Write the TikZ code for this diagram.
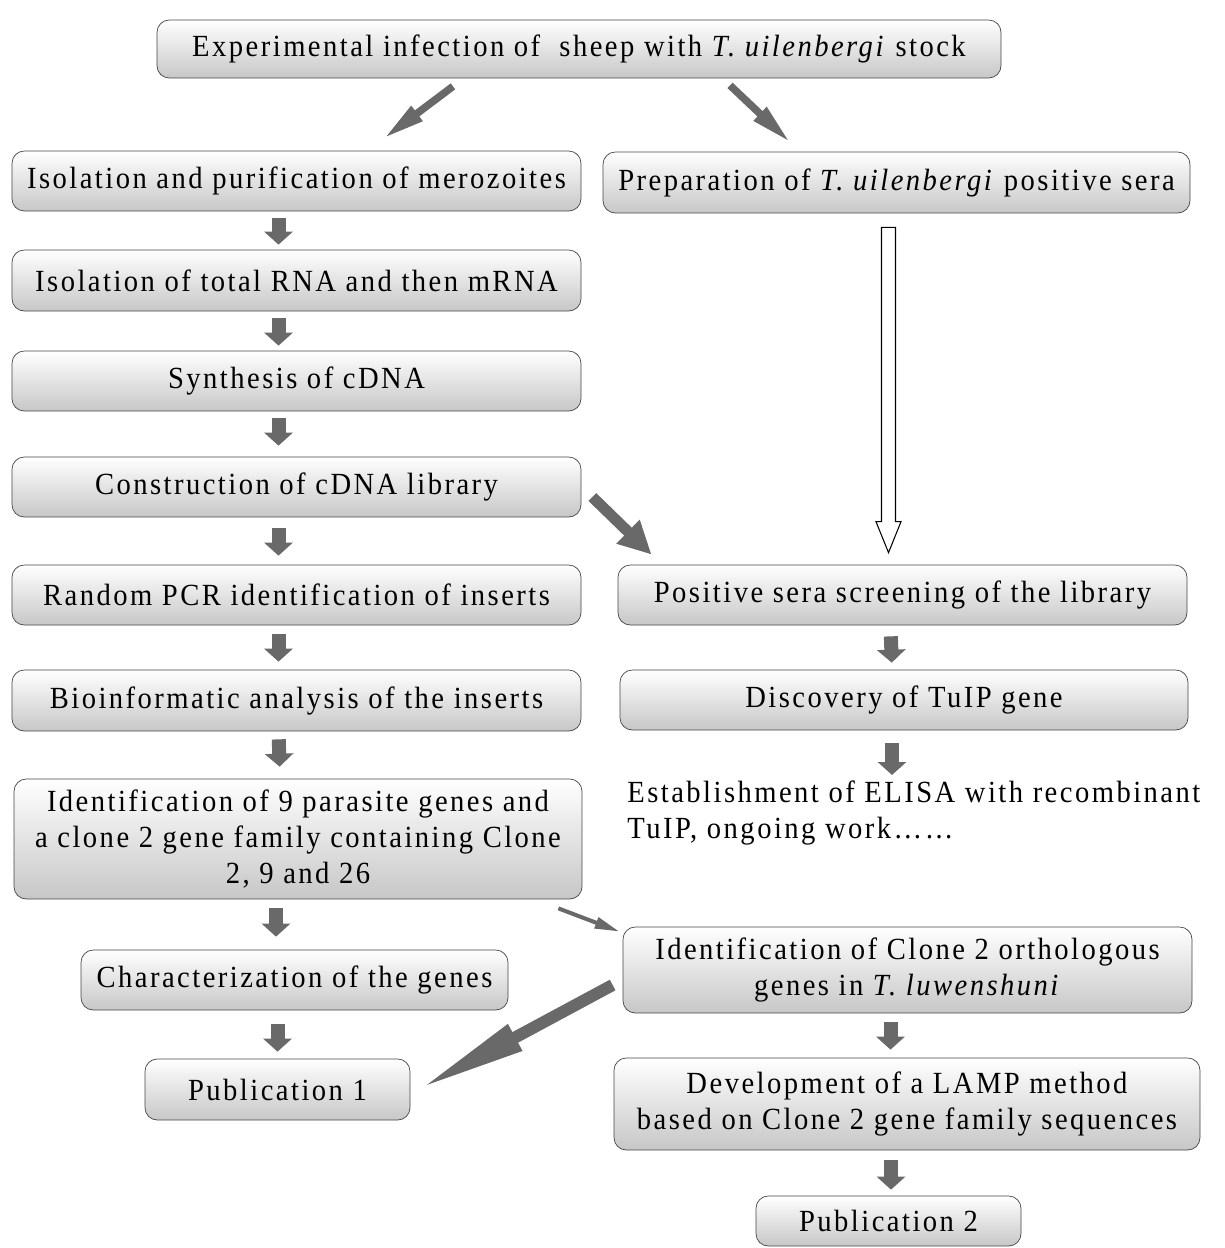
\documentclass[tikz,border=0pt]{standalone}
\usepackage{fontspec}
\setmainfont[FakeStretch=0.93,LetterSpace=8]{Liberation Serif}
\usetikzlibrary{arrows.meta,positioning,calc}
\definecolor{arrowgrey}{RGB}{105,105,105}
\definecolor{boxline}{RGB}{70,70,70}

\begin{document}
\begin{tikzpicture}[
    stage/.style={draw=boxline, rounded corners=7pt, top color=white, bottom color=black!22, minimum height=1.2cm, align=center, font=\fontsize{17.5}{20.5}\selectfont, inner sep=2pt},
    down/.style={arrowgrey, line width=0.28cm, -{Triangle[width=0.56cm,length=0.26cm]}, shorten <=0.16cm, shorten >=0.16cm},
    diag/.style={arrowgrey, line width=0.15cm, -{Triangle[width=0.34cm,length=0.84cm]}},
    openarrow/.style={draw=black, fill=white, line width=0.6pt}
]
\useasboundingbox (0,0) rectangle (24.5,-24.96);

% Top of the flow
\node[stage, minimum width=16.88cm, minimum height=1.16cm] (infect) at (11.58,-0.98) {Experimental infection of\ \ sheep with \textit{T. uilenbergi} stock};

% Left column: merozoites to publication 1
\node[stage, minimum width=11.38cm] (mero) at (5.93,-3.62) {Isolation and purification of merozoites};
\node[stage, minimum width=11.38cm, minimum height=1.22cm] (rna) at (5.93,-5.61) {Isolation of total RNA and then mRNA};
\node[stage, minimum width=11.38cm] (cdna) at (5.93,-7.62) {Synthesis of cDNA};
\node[stage, minimum width=11.38cm] (library) at (5.93,-9.74) {Construction of cDNA library};
\node[stage, minimum width=11.38cm] (pcr) at (5.93,-11.9) {Random PCR identification of inserts};
\node[stage, minimum width=11.38cm, minimum height=1.22cm] (bioinfo) at (5.93,-14.01) {Bioinformatic analysis of the inserts};
\node[stage, minimum width=11.36cm, minimum height=2.4cm] (genes) at (5.96,-16.78) {Identification of 9 parasite genes and\\a clone 2 gene family containing Clone\\2, 9 and 26};
\node[stage, minimum width=8.54cm] (charac) at (5.89,-19.6) {Characterization of the genes};
\node[stage, minimum width=5.3cm, minimum height=1.22cm] (pubone) at (5.55,-21.79) {Publication 1};

% Right column: sera to publication 2
\node[stage, minimum width=11.74cm, minimum height=1.22cm] (sera) at (17.93,-3.65) {Preparation of \textit{T. uilenbergi} positive sera};
\node[stage, minimum width=11.38cm] (screen) at (18.05,-11.9) {Positive sera screening of the library};
\node[stage, minimum width=11.36cm] (tuip) at (18.08,-14.0) {Discovery of TuIP gene};
\node[anchor=west, align=left, inner sep=0pt, font=\fontsize{17.5}{20.5}\selectfont] (elisa) at (12.54,-16.25) {Establishment of ELISA with recombinant\\TuIP, ongoing work\ldots\ldots};
\node[stage, minimum width=11.38cm, minimum height=1.72cm] (ortho) at (18.15,-19.4) {Identification of Clone 2 orthologous\\genes in \textit{T. luwenshuni}};
\node[stage, minimum width=11.72cm, minimum height=1.84cm] (lamp) at (18.14,-22.08) {Development of a LAMP method\\based on Clone 2 gene family sequences};
\node[stage, minimum width=5.3cm, minimum height=1.0cm] (pubtwo) at (17.77,-24.42) {Publication 2};

% Short block arrows, left column
\draw[down, shorten <=0.14cm, shorten >=0.1cm] ([xshift=-0.36cm]mero.south) -- ([xshift=-0.36cm]rna.north);
\draw[down, shorten <=0.14cm, shorten >=0.1cm] ([xshift=-0.36cm]rna.south) -- ([xshift=-0.36cm]cdna.north);
\draw[down, shorten <=0.14cm, shorten >=0.22cm] ([xshift=-0.36cm]cdna.south) -- ([xshift=-0.36cm]library.north);
\draw[down, shorten <=0.22cm, shorten >=0.18cm] ([xshift=-0.36cm]library.south) -- ([xshift=-0.36cm]pcr.north);
\draw[down, shorten <=0.18cm] ([xshift=-0.36cm]pcr.south) -- ([xshift=-0.36cm]bioinfo.north);
\draw[down, shorten >=0.24cm] ([xshift=-0.36cm]bioinfo.south) -- ([xshift=-0.36cm]genes.north);
\draw[down, shorten <=0.18cm, shorten >=0.26cm] ([xshift=-0.44cm]genes.south) -- ([xshift=-0.44cm]genes.south |- charac.north);
\draw[down, shorten <=0.28cm, shorten >=0.14cm] (charac.south -| pubone) -- (pubone.north);

% Short block arrows, right column
\draw[down, shorten <=0.22cm, shorten >=0.14cm] ([xshift=-0.24cm]screen.south) -- ([xshift=-0.24cm]tuip.north);
\draw[down, shorten <=0.26cm, shorten >=0.1cm] ([xshift=-0.24cm]tuip.south) -- ([xshift=-0.24cm]tuip.south |- elisa.north);
\draw[down, shorten <=0.18cm] ([xshift=-0.34cm]ortho.south) -- ([xshift=-0.34cm]ortho.south |- lamp.north);
\draw[down, shorten <=0.2cm, shorten >=0.12cm] ([xshift=-0.32cm]lamp.south) -- ([xshift=-0.32cm]lamp.south |- pubtwo.north);

% Slanted arrows
\draw[diag] ($(infect.south)+(-2.52,-0.16)$) -- ($(mero.north)+(1.74,0.24)$);
\draw[diag] ($(infect.south)+(3.02,-0.14)$) -- ($(sera.north)+(-2.12,0.18)$);
\draw[diag, line width=0.22cm, -{Triangle[width=0.62cm,length=0.66cm]}] ($(library.east)+(0.22,-0.2)$) -- ($(screen.north west)+(0.68,0.2)$);
\draw[diag, line width=0.08cm, -{Triangle[width=0.22cm,length=0.5cm]}] ($(genes.south east)+(-0.48,-0.18)$) -- ($(ortho.north west)+(-0.06,-0.1)$);
\draw[diag, line width=0.24cm, -{Triangle[width=0.54cm,length=2.2cm]}] ($(ortho.west)+(-0.2,-0.3)$) -- ($(pubone.east)+(0.16,0.0)$);

% Open arrow from the sera down to the screening
\coordinate (seratail) at ($(sera.south)+(-0.16,-0.28)$);
\coordinate (seratip) at ($(screen.north)+(-0.28,0.24)$);
\draw[openarrow] let \p1=(seratail), \p2=(seratip) in
  (\x1-0.14cm,\y1) -- (\x1-0.14cm,\y2+0.62cm) -- (\x1-0.25cm,\y2+0.62cm) -- (\x1,\y2)
  -- (\x1+0.25cm,\y2+0.62cm) -- (\x1+0.14cm,\y2+0.62cm) -- (\x1+0.14cm,\y1) -- cycle;

\end{tikzpicture}
\end{document}
